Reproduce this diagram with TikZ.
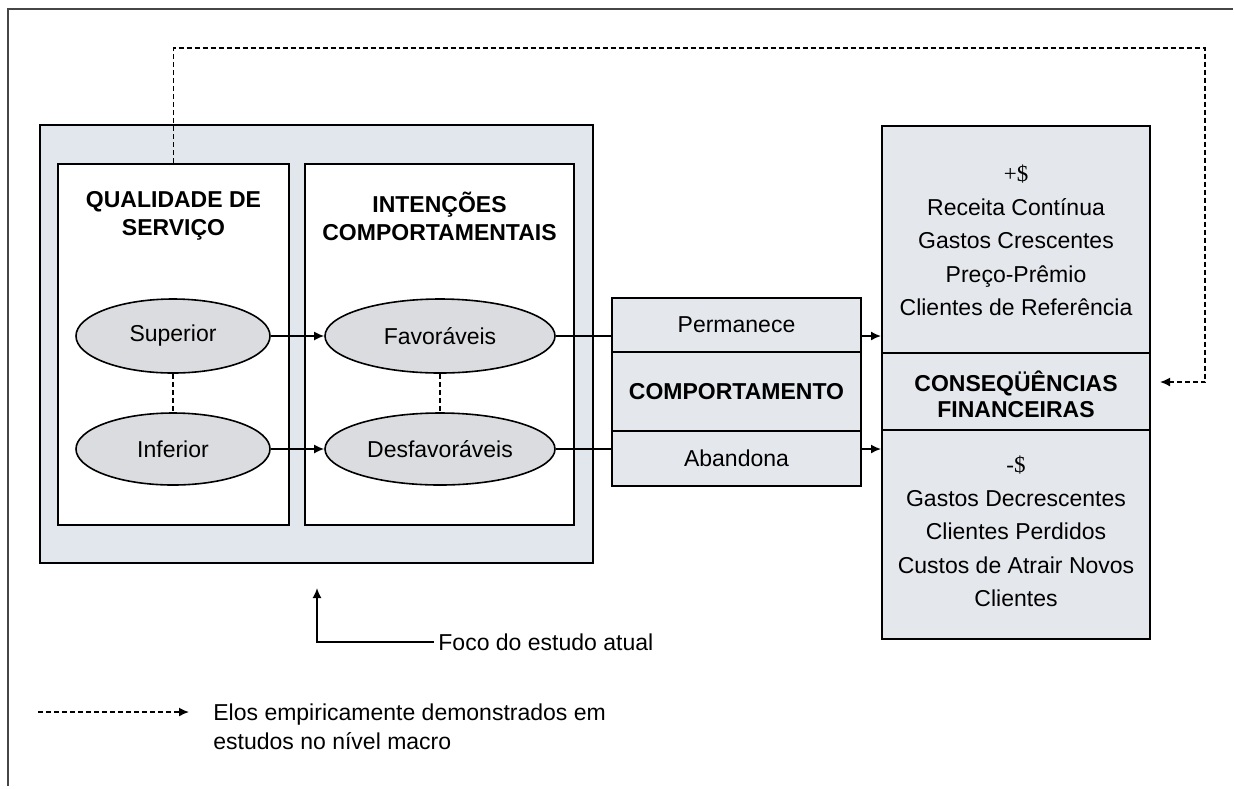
\documentclass[tikz,border=0pt]{standalone}
\usepackage{fontspec}
\setmainfont{Liberation Sans}
\newfontfamily\serifsym{Liberation Serif}
\usetikzlibrary{arrows.meta,shapes.geometric,positioning}

\newlength{\du}
\setlength{\du}{0.5pt}

\definecolor{focofill}{RGB}{226,230,237}
\definecolor{elipfill}{RGB}{219,220,223}
\definecolor{blocofill}{RGB}{228,231,236}
\definecolor{moldcolor}{RGB}{70,70,70}

\tikzset{
  texto/.style={font=\fontsize{11.5}{14}\selectfont, align=center, inner sep=4\du},
  titulo/.style={texto, font=\fontsize{11.5}{14}\selectfont\bfseries},
  lista/.style={texto, font=\fontsize{11.5}{16.75}\selectfont},
  painel/.style={draw, line width=2\du, inner sep=0pt},
  elipse/.style={ellipse, draw, fill=elipfill, line width=1.6\du, inner sep=0pt, texto},
  bloco/.style={painel, fill=blocofill, minimum width=249\du, texto},
  blocofin/.style={painel, fill=blocofill, minimum width=268\du},
  linha/.style={line width=1.6\du},
  seta/.style={linha, -{Latex[length=5pt,width=4.5pt]}},
  elo/.style={linha, dash pattern=on 5\du off 3\du}
}

\begin{document}
\begin{tikzpicture}
\pgftransformxscale{1.000000}
\pgftransformyscale{-1.000000}
\useasboundingbox (0\du,0\du) rectangle (1234\du,788\du);
% moldura
\draw[moldcolor, line width=1.6\du] (1233\du,9\du)--(8\du,9\du)--(8\du,786\du);
% foco do estudo
\node[painel, fill=focofill, minimum width=553\du, minimum height=438\du] (foco) at (316.5\du,344\du) {};
\node[painel, fill=white, minimum width=231\du, minimum height=361\du] (qual) at (173.5\du,344.5\du) {};
\node[painel, fill=white, minimum width=269\du, minimum height=361\du] (inten) at (439.5\du,344.5\du) {};
\node[titulo] (tqual) at (173.5\du,216\du) {QUALIDADE DE\\SERVIÇO};
\node[titulo] (tinten) at (439.5\du,216\du) {INTENÇÕES\\COMPORTAMENTAIS};
\node[elipse, minimum width=194\du, minimum height=74\du] (sup) at (173\du,336\du) {Superior};
\node[elipse, minimum width=194\du, minimum height=72\du] (inf) at (173\du,449\du) {Inferior};
\node[elipse, minimum width=230\du, minimum height=74\du] (fav) at (440\du,336\du) {Favoráveis};
\node[elipse, minimum width=230\du, minimum height=72\du] (desf) at (440\du,449\du) {Desfavoráveis};
\draw[elo] (sup.south)--(inf.north);
\draw[elo] (fav.south)--(desf.north);
\draw[seta] (sup)--(fav);
\draw[seta] (inf)--(desf);
% comportamento
\node[bloco, minimum height=54\du] (perm) at (736.5\du,325\du) {Permanece};
\node[bloco, minimum height=79\du, font=\fontsize{11.5}{14}\selectfont\bfseries] (comp) at (736.5\du,391.5\du) {COMPORTAMENTO};
\node[bloco, minimum height=55\du] (aban) at (736.5\du,458.5\du) {Abandona};
% consequencias
\node[blocofin, minimum height=227\du] (mais) at (1016\du,239.5\du) {};
\node[blocofin, minimum height=77\du] (cons) at (1016\du,391.5\du) {};
\node[blocofin, minimum height=209\du] (menos) at (1016\du,534.5\du) {};
\node[lista] (tmais) at (1016\du,240.5\du) {{\serifsym +\$}\\Receita Contínua\\Gastos Crescentes\\Preço-Prêmio\\Clientes de Referência};
\node[titulo, font=\fontsize{11.5}{13}\selectfont\bfseries] (tcons) at (1016\du,394\du) {CONSEQÜÊNCIAS\\FINANCEIRAS};
\node[lista] (tmenos) at (1016\du,531.5\du) {{\serifsym -\$}\\Gastos Decrescentes\\Clientes Perdidos\\Custos de Atrair Novos\\Clientes};
\draw[linha] (fav.east)--(fav.east -| perm.west);
\draw[seta] (fav.east -| perm.east)--(fav.east -| mais.west);
\draw[linha] (desf.east)--(desf.east -| aban.west);
\draw[seta] (desf.east -| aban.east)--(desf.east -| menos.west);
% elo macro
\coordinate (retorno) at (1205\du,48\du);
\coordinate (ponta) at (1160\du,382\du);
\draw[elo, seta] (qual.north) |- (retorno) |- (ponta);
% foco do estudo atual
\node[texto, anchor=west] (focotxt) at (434\du,642\du) {Foco do estudo atual};
\coordinate (fococanto) at (317\du,642\du);
\coordinate (focoponta) at (317\du,588\du);
\draw[seta] (focotxt.west)--(fococanto)--(focoponta);
% legenda
\node[texto, anchor=west, align=left, font=\fontsize{11.5}{14.5}\selectfont] (legtxt) at (209\du,726.5\du) {Elos empiricamente demonstrados em\\estudos no nível macro};
\coordinate (leg0) at (38\du,712\du);
\coordinate (leg1) at (189\du,712\du);
\draw[elo, seta] (leg0)--(leg1);
\end{tikzpicture}
\end{document}
